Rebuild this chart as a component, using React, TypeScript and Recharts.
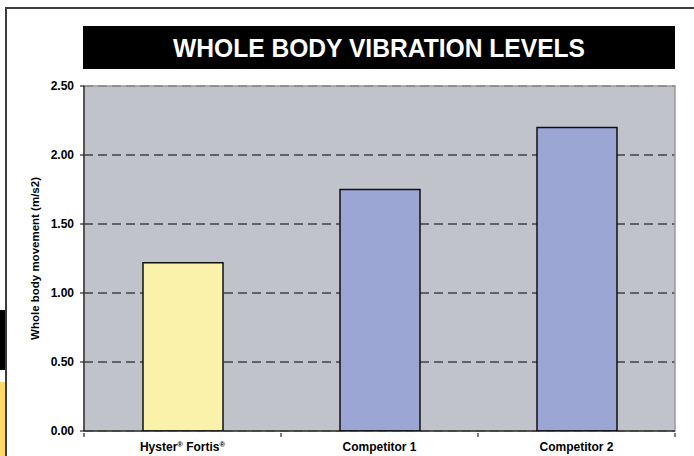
import React from 'react';
import { BarChart, Bar, XAxis, YAxis, CartesianGrid, Cell, ReferenceArea } from 'recharts';

const categories = ['Hyster® Fortis®', 'Competitor 1', 'Competitor 2'];
const values = [1.22, 1.75, 2.2];
const yTicks = [0, 0.5, 1, 1.5, 2, 2.5];
const barColors = ['#FAF1AB', '#9CA6D5', '#9CA6D5'];
const title = 'WHOLE BODY VIBRATION LEVELS';
const yLabel = 'Whole body movement (m/s2)';

const data = categories.map((name, i) => ({ name, value: values[i] }));

const FONT = '"Liberation Sans", Arial, Helvetica, sans-serif';

const XTick = (props: any) => {
  const { x, y, payload, index, visibleTicksCount } = props;
  const half = payload && payload.offset ? payload.offset : 0;
  const parts: string[] = String(payload.value).split('®');
  const nodes: any[] = [];
  parts.forEach((p, i) => {
    if (p) nodes.push(<tspan key={'t' + i} dy={i > 0 ? 4 : 0}>{p}</tspan>);
    if (i < parts.length - 1) nodes.push(<tspan key={'r' + i} fontSize={7.5} dy={-4}>®</tspan>);
  });
  const last = index === (visibleTicksCount ?? categories.length) - 1;
  return (
    <g>
      <line x1={x - half} x2={x - half} y1={y} y2={y + 4} stroke="#000" />
      {last && <line x1={x + half} x2={x + half} y1={y} y2={y + 4} stroke="#000" />}
      <text x={x} y={y + 18} textAnchor="middle" fontFamily={FONT} fontWeight="bold" fontSize={12} fill="#000" style={{ whiteSpace: 'pre' }}>
        {nodes}
      </text>
    </g>
  );
};

const YLabel = (props: any) => {
  const { viewBox } = props;
  const cx = viewBox.x + 36;
  const cy = viewBox.y + viewBox.height / 2;
  return (
    <text x={cx} y={cy} transform={`rotate(-90 ${cx} ${cy})`} textAnchor="middle" dominantBaseline="middle" fontFamily={FONT} fontWeight="bold" fontSize={11.5} fill="#000">
      {yLabel}
    </text>
  );
};

export default function App() {
  return (
    <div style={{ position: 'fixed', left: 0, top: 0, width: 694, height: 456, overflow: 'hidden', background: '#fff' }}>
      <style>{'html,body{overflow:hidden;margin:0;padding:0;}'}</style>
      <div style={{ position: 'absolute', left: 5, top: 7, width: 689, height: 2, background: '#3c3c3c' }} />
      <div style={{ position: 'absolute', left: 5, top: 7, width: 2, height: 449, background: '#3c3c3c' }} />
      <div style={{ position: 'absolute', left: 0, top: 310, width: 5, height: 60, background: '#000' }} />
      <div style={{ position: 'absolute', left: 0, top: 382, width: 5, height: 74, background: '#FDD966' }} />
      <div style={{ position: 'absolute', left: 83, top: 26, width: 592, height: 43, background: '#000' }}>
        <svg width={592} height={43} style={{ display: 'block' }}>
          <text x={296} y={31} textAnchor="middle" fontFamily={FONT} fontWeight="bold" fontSize={25} fill="#fff" textLength={412} lengthAdjust="spacingAndGlyphs">
            {title}
          </text>
        </svg>
      </div>
      <div style={{ position: 'absolute', left: 0, top: 0, width: 694, height: 456 }}>
        <BarChart width={694} height={456} data={data} margin={{ top: 86, right: 19, left: 0, bottom: 0 }} barSize={80}>
          <CartesianGrid vertical={false} stroke="#000" strokeDasharray="9 5" fill="#C0C3CA" fillOpacity={1} />
          <XAxis dataKey="name" height={25} axisLine={{ stroke: '#000', strokeWidth: 1 }} tickLine={false} tickSize={0} tick={<XTick />} interval={0} />
          <YAxis domain={[0, 2.5]} ticks={yTicks} width={84} tickSize={4} tickMargin={6} axisLine={{ stroke: '#000' }} tickLine={{ stroke: '#000' }} tickFormatter={(v: number) => v.toFixed(2)} tick={{ fontFamily: FONT, fontWeight: 'bold', fontSize: 12, fill: '#000' }} label={<YLabel />} allowDataOverflow />
          <ReferenceArea y1={0} y2={2.5} fill="none" stroke="#9a9a9a" strokeWidth={1.5} ifOverflow="visible" />
          <Bar dataKey="value" stroke="#111" strokeWidth={1.5} isAnimationActive={false}>
            {data.map((d, i) => (
              <Cell key={d.name} fill={barColors[i]} />
            ))}
          </Bar>
        </BarChart>
      </div>
    </div>
  );
}
